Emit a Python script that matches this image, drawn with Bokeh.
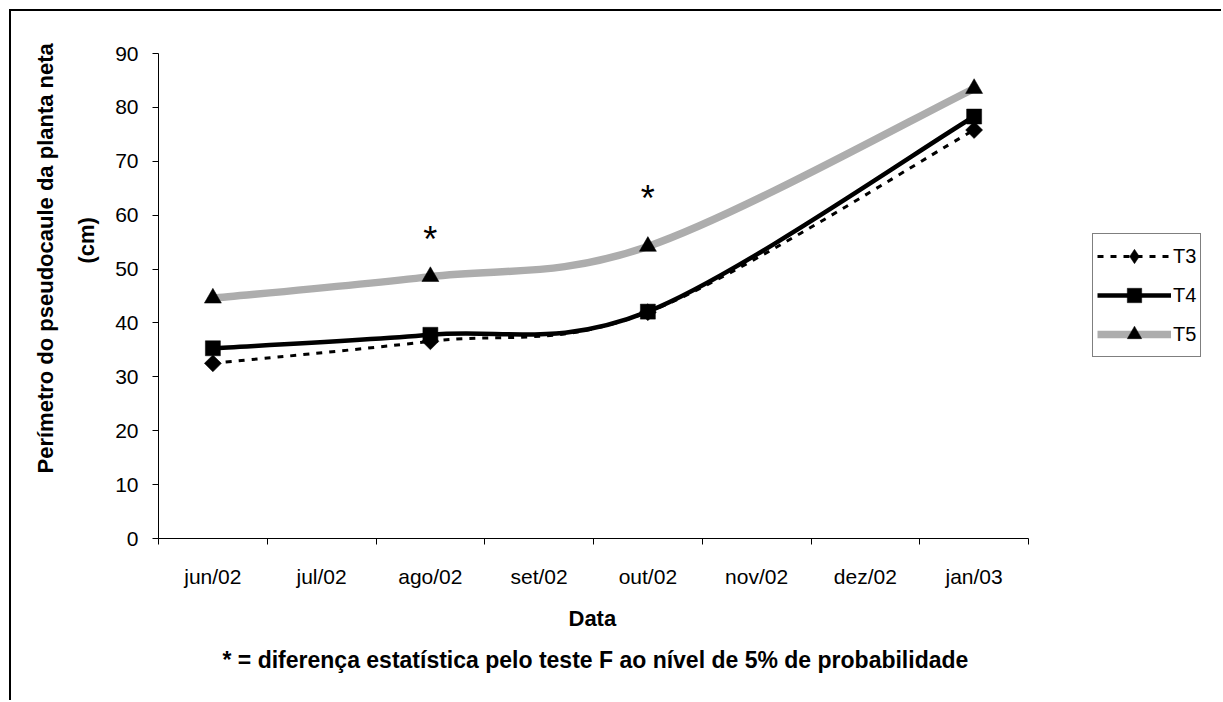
import numpy as np
from bokeh.plotting import figure
from bokeh.models import Range1d, FixedTicker, Legend, LegendItem, Title, ColumnDataSource
from bokeh.core.properties import value
from bokeh.embed import file_html
from bokeh.resources import INLINE

# ---------------- data ----------------
months = ["jun/02", "jul/02", "ago/02", "set/02", "out/02", "nov/02", "dez/02", "jan/03"]
sample_months = ["jun/02", "ago/02", "out/02", "jan/03"]
t3 = [32.5, 36.6, 42.0, 75.8]
t4 = [35.3, 37.8, 42.1, 78.3]
t5 = [44.6, 48.6, 54.2, 83.5]
star_months = ["ago/02", "out/02"]
star_y = [55.4, 63.1]
y_ticks = list(range(0, 91, 10))

FONT = "Liberation Sans"

pos = {m: i + 1 for i, m in enumerate(months)}
xs = [pos[m] for m in sample_months]


def bezier_source(x, y):
    """Excel-like smoothed line: cubic Bezier segments through the data points."""
    P = list(zip(x, y))
    n = len(P)
    d = dict(x0=[], y0=[], x1=[], y1=[], cx0=[], cy0=[], cx1=[], cy1=[])
    for i in range(n - 1):
        p0 = P[i - 1] if i > 0 else P[i]
        p1, p2 = P[i], P[i + 1]
        p3 = P[i + 2] if i + 2 < n else P[i + 1]
        d["x0"].append(p1[0]); d["y0"].append(p1[1])
        d["x1"].append(p2[0]); d["y1"].append(p2[1])
        d["cx0"].append(p1[0] + (p2[0] - p0[0]) / 6.0)
        d["cy0"].append(p1[1] + (p2[1] - p0[1]) / 6.0)
        d["cx1"].append(p2[0] - (p3[0] - p1[0]) / 6.0)
        d["cy1"].append(p2[1] - (p3[1] - p1[1]) / 6.0)
    return ColumnDataSource(d)


# ---------------- layout ----------------
W, H = 1212, 691
FL, FT = 147, 42          # frame offset inside the canvas
AXIS_W, FH = 870, 485     # width of the category axis, frame height
FW = W - FL - 11          # frame extends to the right so the legend sits inside it
x_end = 0.5 + len(months) * FW / AXIS_W

p = figure(width=W, height=H, output_backend="svg", toolbar_location=None,
           x_range=Range1d(0.5, x_end), y_range=Range1d(0, 90),
           min_border_left=FL, min_border_top=FT,
           min_border_right=W - FL - FW, min_border_bottom=H - FT - FH,
           background_fill_color="white", border_fill_color="white")
p.styles = {"margin-left": "9px", "margin-top": "9px",
            "border-left": "2px solid black", "border-top": "2px solid black"}
p.outline_line_color = None
p.xgrid.visible = False
p.ygrid.visible = False

# x axis
xa = p.xaxis[0]
xa.bounds = (0.5, len(months) + 0.5)
xa.ticker = FixedTicker(ticks=list(range(1, len(months) + 1)),
                        minor_ticks=[i + 0.5 for i in range(0, len(months) + 1)])
xa.major_label_overrides = {i + 1: m for i, m in enumerate(months)}
xa.major_tick_line_color = None
xa.minor_tick_line_color = "black"
xa.minor_tick_in = 0
xa.minor_tick_out = 6
xa.axis_line_color = "black"
xa.major_label_text_font = FONT
xa.major_label_text_font_size = "21px"
xa.major_label_text_color = "black"
xa.major_label_standoff = 20

# y axis
ya = p.yaxis[0]
ya.ticker = FixedTicker(ticks=y_ticks)
ya.minor_tick_line_color = None
ya.major_tick_in = 0
ya.major_tick_out = 6
ya.major_tick_line_color = "black"
ya.axis_line_color = "black"
ya.major_label_text_font = FONT
ya.major_label_text_font_size = "21px"
ya.major_label_text_color = "black"
ya.major_label_standoff = 14

# y axis title (two lines), stacked outward from the axis
for txt, so, off in [("(cm)", 28, 275), ("Perímetro do pseudocaule da planta neta", 0, 65)]:
    p.add_layout(Title(text=txt, align="left", offset=off, standoff=so,
                       text_font=FONT, text_font_size="22px", text_font_style="bold",
                       text_color="black"), "left")

# x axis title and footnote, stacked below the axis
for txt, so, off, fs in [("Data", 26, 410, "22px"),
                         ("* = diferença estatística pelo teste F ao nível de 5% de probabilidade",
                          2, 64, "23px")]:
    p.add_layout(Title(text=txt, align="left", offset=off, standoff=so,
                       text_font=FONT, text_font_size=fs, text_font_style="bold",
                       text_color="black"), "below")

# series
styles = [
    ("T3", t3, dict(line_color="black", line_width=3, line_dash="6 7"),
     dict(marker="square", angle=np.pi / 4, size=12), dict(marker="diamond")),
    ("T4", t4, dict(line_color="black", line_width=4.5),
     dict(marker="square", size=15), dict(marker="square")),
    ("T5", t5, dict(line_color="#adadad", line_width=7.5),
     dict(marker="triangle", size=17), dict(marker="triangle")),
]

nan2 = np.array([np.nan, np.nan])
items = []
for name, ys, lstyle, mstyle, legstyle in styles[::-1]:
    p.bezier(x0="x0", y0="y0", x1="x1", y1="y1", cx0="cx0", cy0="cy0", cx1="cx1", cy1="cy1",
             source=bezier_source(xs, ys), **lstyle)
for name, ys, lstyle, mstyle, legstyle in styles[::-1]:
    p.scatter(xs, ys, fill_color="black", line_color="black", line_width=0.5, **mstyle)
    proxy_line = p.line(nan2, nan2, **lstyle)
    proxy_mark = p.scatter(nan2, nan2, fill_color="black", line_color="black",
                           line_width=0.5, **legstyle)
    items.append((name, proxy_line, proxy_mark))

legend = Legend(items=[LegendItem(label=n, renderers=[pl, pm]) for n, pl, pm in items[::-1]],
                location=(934, 181), orientation="vertical",
                glyph_width=74, glyph_height=36, label_height=36, label_width=20,
                spacing=3, padding=4, margin=0, label_standoff=2,
                label_text_font=FONT, label_text_font_size="20px", label_text_color="black",
                border_line_color="black", border_line_width=1,
                background_fill_color="white", background_fill_alpha=1)
p.add_layout(legend, "center")

# significance stars
p.text(x=[pos[m] for m in star_months], y=star_y, text=["*"] * len(star_months),
       text_font=value(FONT), text_font_size="36px", text_align="center",
       text_baseline="alphabetic", text_color="black")

open("out.html", "w").write(file_html(p, INLINE))
